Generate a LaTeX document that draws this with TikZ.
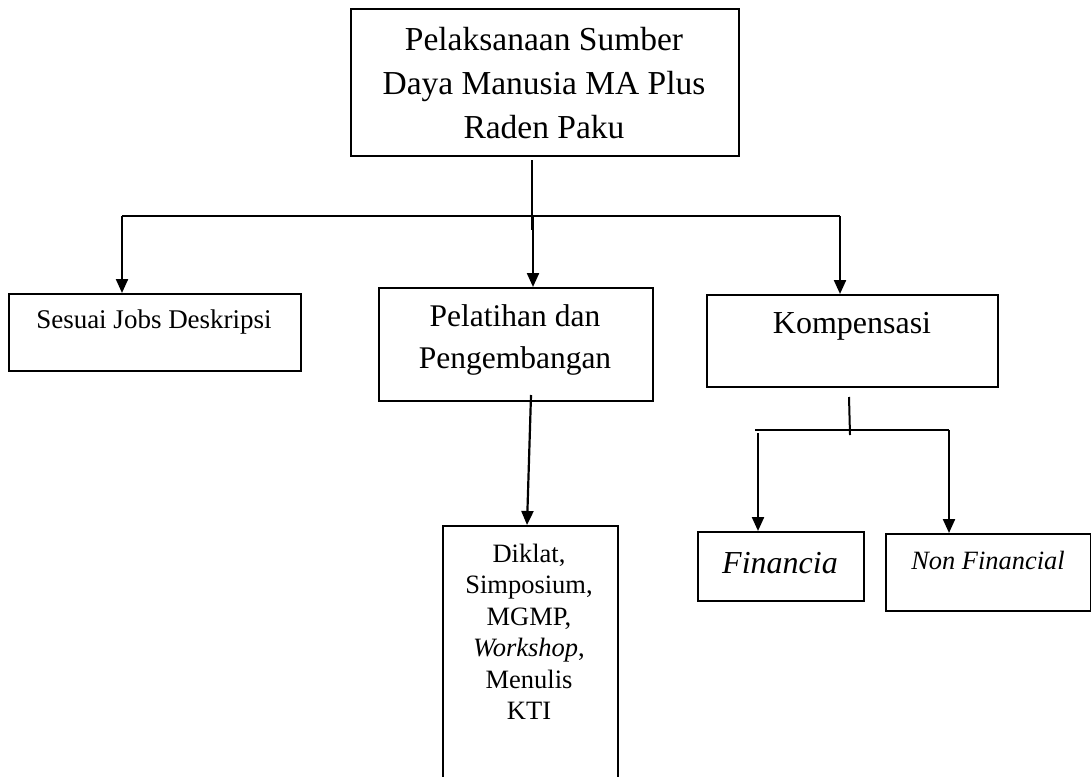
\documentclass[tikz,border=0pt]{standalone}
\usepackage{fontspec}
\setmainfont{Liberation Serif}
\usetikzlibrary{arrows.meta}
\tikzset{
  box/.style={draw, line width=1.6pt, inner sep=0pt, anchor=north west},
  conn/.style={line width=2pt},
  arr/.style={line width=2.2pt, -{Triangle[length=14pt,width=12pt]}},
  lbl/.style={align=center, inner sep=0pt}
}
\begin{document}
\begin{tikzpicture}[x=1pt,y=-1pt]
\useasboundingbox (0,0) rectangle (1091,776);
% boxes
\node[box, minimum width=388pt, minimum height=147pt] (top) at (350,8) {};
\node[box, minimum width=292pt, minimum height=77pt] (b1) at (8,293) {};
\node[box, minimum width=274pt, minimum height=113pt] (b2) at (378,287) {};
\node[box, minimum width=291pt, minimum height=92pt] (b3) at (706,294) {};
\node[box, minimum width=175pt, minimum height=260pt] (b4) at (442,525) {};
\node[box, minimum width=166pt, minimum height=69pt] (b5) at (697,531) {};
\node[box, minimum width=205pt, minimum height=77pt] (b6) at (885,533) {};
% texts
\node[lbl, font=\fontsize{33.5}{44}\selectfont] (ttop) at (544,83) {Pelaksanaan Sumber\\Daya Manusia MA Plus\\Raden Paku};
\node[lbl, font=\fontsize{27}{30}\selectfont] (t1) at (154,322) {Sesuai Jobs Deskripsi};
\node[lbl, font=\fontsize{31.5}{42}\selectfont] (t2) at (515,340) {Pelatihan dan\\Pengembangan};
\node[lbl, font=\fontsize{32}{36}\selectfont] (t3) at (852,326) {Kompensasi};
\node[lbl, font=\fontsize{26.5}{31.5}\selectfont] (t4) at (529,632) {Diklat,\\Simposium,\\MGMP,\\\textit{Workshop},\\Menulis\\KTI};
\node[lbl, font=\fontsize{32}{36}\selectfont\itshape] (t5) at (780,563) {Financia};
\node[lbl, font=\fontsize{26.4}{30}\selectfont\itshape] (t6) at (988,560) {Non Financial};
% connectors
\coordinate (barL) at (122,216);
\coordinate (barM) at (533,216);
\coordinate (barR) at (840,216);
\coordinate (topL) at (532,160);
\coordinate (topB) at (532,230);
\draw[conn] (topL) -- (topB);
\draw[conn] (barL) -- (barR);
\draw[arr] (barL) -- (b1.north west -| barL);
\draw[arr] (barM) -- (b2.north west -| barM);
\draw[arr] (barR) -- (b3.north west -| barR);
\coordinate (b2out) at (531,395);
\draw[arr] (b2out) -- (527,525);
\coordinate (k1) at (849,397);
\coordinate (k2) at (850,435);
\draw[conn] (k1) -- (k2);
\coordinate (kL) at (755,430);
\coordinate (kR) at (949,430);
\draw[conn] (kL) -- (kR);
\coordinate (kLa) at (758,433);
\draw[arr] (kLa) -- (b5.north west -| kLa);
\draw[arr] (kR) -- (b6.north west -| kR);
\end{tikzpicture}
\end{document}
